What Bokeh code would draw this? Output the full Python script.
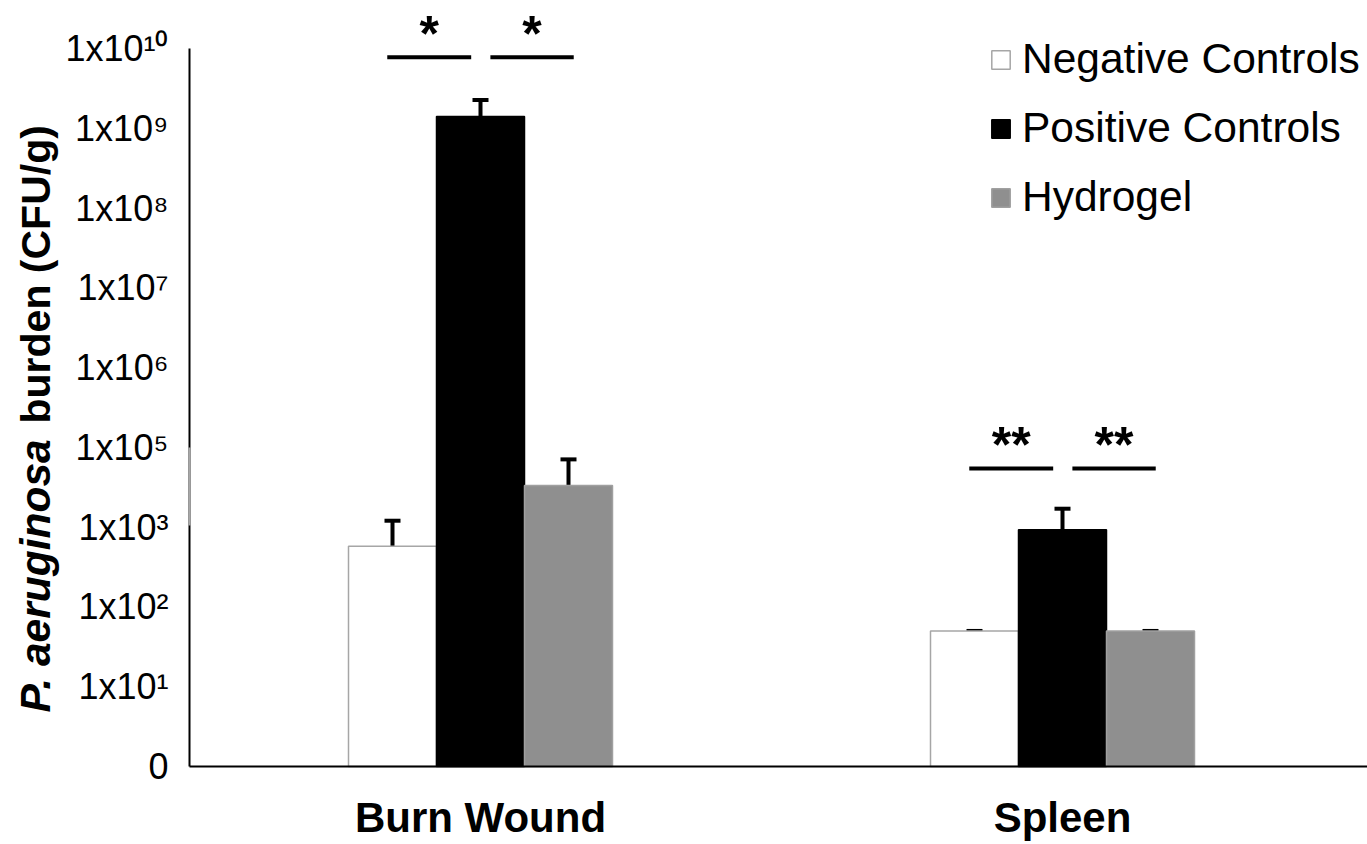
import math
from bokeh.plotting import figure
from bokeh.models import (ColumnDataSource, FixedTicker, Whisker, TeeHead, Label,
                          Legend, LegendItem)
from bokeh.embed import file_html
from bokeh.resources import INLINE

# ---------------- data ----------------
groups = ["Burn Wound", "Spleen"]
series_names = ["Negative Controls", "Positive Controls", "Hydrogel"]
neg_values = [575, 50]
neg_upper = [1450, 50]
pos_values = [1.4e9, 930]
pos_upper = [2.26e9, 2900]
hyd_values = [1.1e4, 50]
hyd_upper = [5.0e4, 50]
tick_labels = ["0", "1x10\u00b9", "1x10\u00b2", "1x10\u00b3", "1x10\u2075",
               "1x10\u2076", "1x10\u2077", "1x10\u2078", "1x10\u2079", "1x10\u00b9\u2070"]
sig_marks = ["*", "**"]

# ---------------- styling / layout ----------------
FONT = "Liberation Sans"
fills = ["#ffffff", "#000000", "#8f8f8f"]
outlines = ["#a6a6a6", "#000000", "#a0a0a0"]
BAR_W = 0.1512
W, H = 1367, 844
X0_PX, PX_PER_X = 189.0, 582.0       # pixel of x=0, pixels per group
Y0_PX, PX_PER_Y = 766.0, 79.78       # pixel of y=0, pixels per axis step
N_STEPS = len(tick_labels) - 1


def axis_pos(v):
    """Broken log axis: the 1e3..1e5 span is compressed into one step."""
    lg = math.log10(v)
    if lg <= 3:
        return lg
    if lg <= 5:
        return 3 + (lg - 3) / 2
    return lg - 1


def ypos(px):
    return (Y0_PX - px) / PX_PER_Y


x_start = -X0_PX / PX_PER_X
x_end = (W - X0_PX) / PX_PER_X
y_start = -(H - Y0_PX) / PX_PER_Y
y_end = Y0_PX / PX_PER_Y

p = figure(width=W, height=H, x_range=(x_start, x_end), y_range=(y_start, y_end),
           output_backend="svg", toolbar_location=None,
           min_border_left=0, min_border_right=0, min_border_top=0,
           min_border_bottom=0)
p.outline_line_color = None
p.xgrid.grid_line_color = None
p.ygrid.grid_line_color = None
p.background_fill_color = "white"

values = [neg_values, pos_values, hyd_values]
uppers = [neg_upper, pos_upper, hyd_upper]
offsets = [-BAR_W, 0.0, BAR_W]
centers = [i + 0.5 for i in range(len(groups))]

renderers = []
for k in range(3):
    src = ColumnDataSource(dict(
        x=[c + offsets[k] for c in centers],
        top=[axis_pos(v) for v in values[k]],
        up=[axis_pos(v) for v in uppers[k]],
    ))
    r = p.vbar(x="x", top="top", bottom=0, width=BAR_W, source=src,
               fill_color=fills[k], line_color=outlines[k], line_width=1.5)
    renderers.append(r)
    w = Whisker(base="x", lower="top", upper="up", source=src,
                line_color="black", line_width=4, lower_head=None,
                upper_head=TeeHead(size=16, line_color="black", line_width=4))
    p.add_layout(w)

# significance brackets
sig_line_y = [ypos(56.7), ypos(468)]
sig_star_y = [ypos(33), ypos(444)]
for g, c in enumerate(centers):
    left = (c - BAR_W - 0.009, c - 0.016)
    right = (c + 0.017, c + BAR_W + 0.009)
    for (x0, x1) in (left, right):
        p.segment(x0=[x0], x1=[x1], y0=[sig_line_y[g]], y1=[sig_line_y[g]],
                  line_color="black", line_width=4)
        p.add_layout(Label(x=(x0 + x1) / 2, y=sig_star_y[g], text=sig_marks[g],
                           text_font=FONT, text_font_style="bold",
                           text_font_size="50px", text_align="center",
                           text_baseline="alphabetic", text_color="black"))

# axes (fixed inside the frame so annotations outside the data area are not clipped)
yax = p.yaxis[0]
yax.fixed_location = 0
yax.bounds = (0, N_STEPS)
yax.ticker = FixedTicker(ticks=list(range(N_STEPS + 1)))
yax.major_label_overrides = {i: t for i, t in enumerate(tick_labels)}
yax.major_label_text_font = FONT
yax.major_label_text_font_size = "36px"
yax.major_label_text_color = "black"
yax.major_label_standoff = 15
yax.major_tick_line_color = None
yax.minor_tick_line_color = None
yax.axis_line_width = 2
yax.axis_line_color = "black"

xax = p.xaxis[0]
xax.fixed_location = 0
xax.bounds = (0, x_end)
xax.ticker = FixedTicker(ticks=centers)
xax.major_label_overrides = {c: g for c, g in zip(centers, groups)}
xax.major_label_text_font = FONT
xax.major_label_text_font_style = "bold"
xax.major_label_text_font_size = "42px"
xax.major_label_text_color = "black"
xax.major_label_standoff = 21
xax.major_tick_line_color = None
xax.minor_tick_line_color = None
xax.axis_line_width = 2
xax.axis_line_color = "black"

# lighter stretch of the y axis marking the axis break between 1x10^3 and 1x10^5
brk = p.segment(x0=[0], x1=[0], y0=[ypos(525)], y1=[ypos(447)],
                line_color="#a8a8a8", line_width=2.2)
brk.level = "overlay"

# y-axis title (italic species name + bold rest)
p.add_layout(Label(x=35, y=H - 712, x_units="screen", y_units="screen",
                   text="P. aeruginosa", angle=math.pi / 2,
                   text_font=FONT, text_font_style="bold italic",
                   text_font_size="42.5px", text_align="left",
                   text_baseline="middle", text_color="black"))
p.add_layout(Label(x=35, y=H - 423, x_units="screen", y_units="screen",
                   text="burden (CFU/g)", angle=math.pi / 2,
                   text_font=FONT, text_font_style="bold",
                   text_font_size="41px", text_align="left",
                   text_baseline="middle", text_color="black"))

legend = Legend(items=[LegendItem(label=n, renderers=[r]) for n, r in zip(series_names, renderers)],
                location=(989, H - 221), glyph_width=23, glyph_height=23,
                label_text_font=FONT, label_text_font_size="42.5px",
                label_text_color="black", label_standoff=10, spacing=21,
                padding=0, margin=0, border_line_color=None,
                background_fill_alpha=0)
p.add_layout(legend)

open("out.html", "w").write(file_html(p, INLINE))
